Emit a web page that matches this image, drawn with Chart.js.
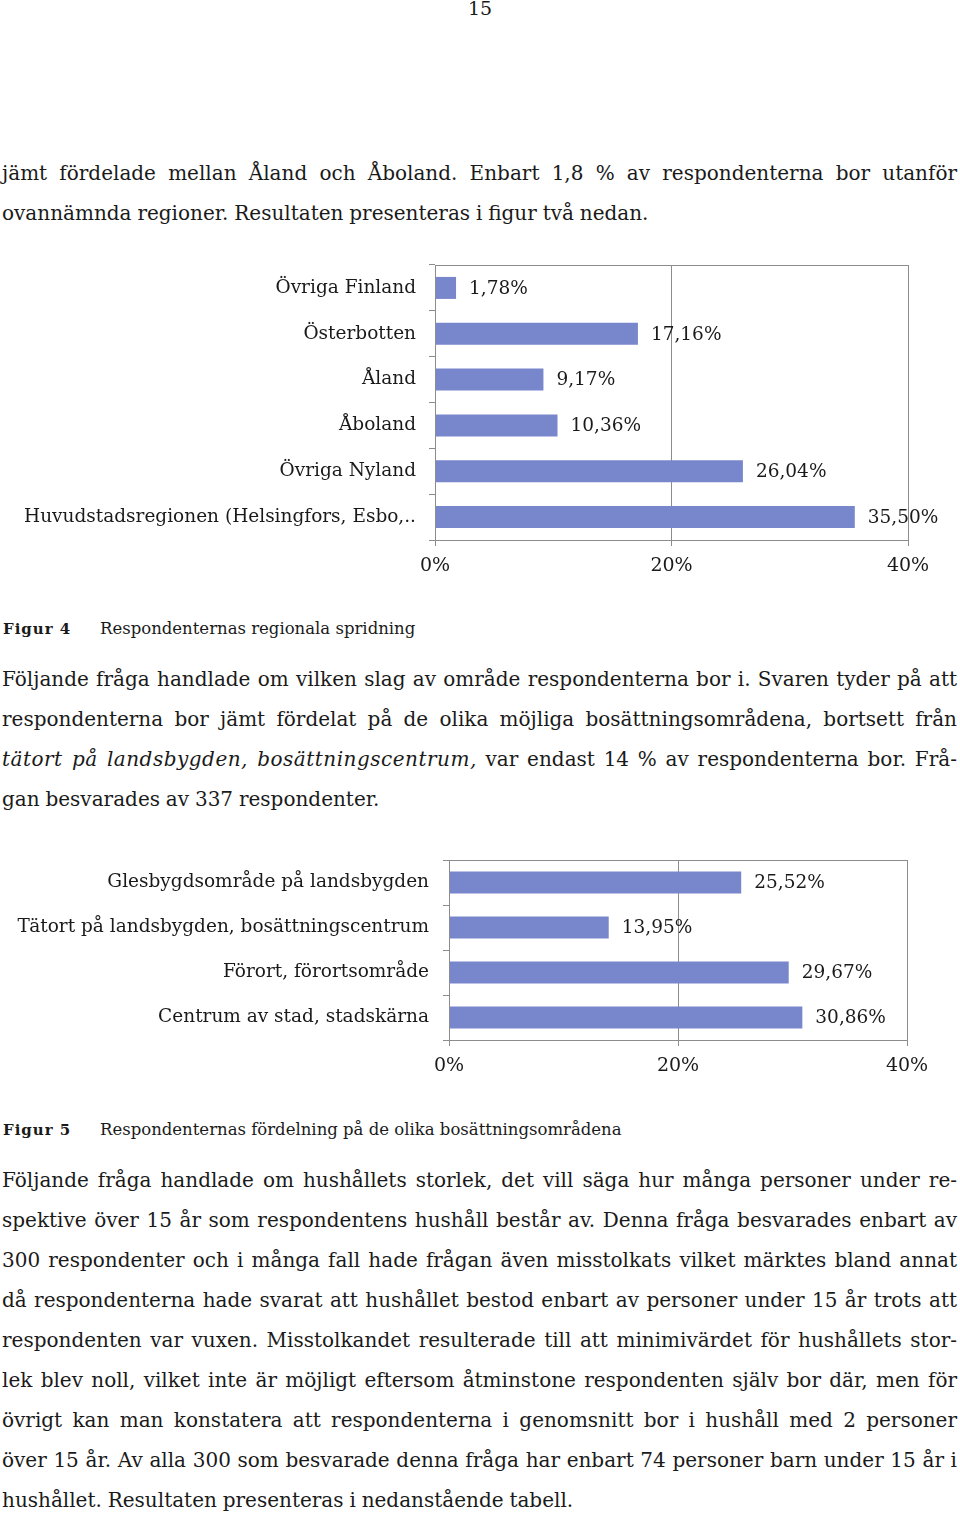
<!DOCTYPE html>
<html>
<head>
<meta charset="utf-8">
<script src="https://cdn.jsdelivr.net/npm/chart.js@4"></script>
<style>
body { margin: 0; background: #fff; font-family: 'DejaVu Serif', serif; color: #1a1a1a; }
#page { position: relative; width: 960px; height: 1516px; overflow: hidden; }
.line { position: absolute; left: 2px; width: 955px; font-size: 20px; word-spacing: -0.5px; line-height: 40px; text-align: justify; text-align-last: justify; }
.last { text-align-last: left; }
.pagenr { position: absolute; left: 0; width: 960px; top: -3px; text-align: center; font-size: 19px; }
.cap { position: absolute; left: 3px; font-size: 16.5px; line-height: 20px; }
.cap b { display: inline-block; width: 97px; font-size: 15px; letter-spacing: 1px; }
.sp { font-style: italic; letter-spacing: 0.5px; }
canvas { position: absolute; left: 0; }
</style>
</head>
<body>
<div id="page">
  <div class="pagenr">15</div>

  <div class="line" style="top:153px">jämt fördelade mellan Åland och Åboland. Enbart 1,8 % av respondenterna bor utanför</div>
  <div class="line last" style="top:193px">ovannämnda regioner. Resultaten presenteras i figur två nedan.</div>

  <canvas id="regionChart" width="960" height="330" style="top:255px"></canvas>

  <div class="cap" style="top:619px"><b>Figur 4</b>Respondenternas regionala spridning</div>

  <div class="line" style="top:659px">Följande fråga handlade om vilken slag av område respondenterna bor i. Svaren tyder på att</div>
  <div class="line" style="top:699px">respondenterna bor jämt fördelat på de olika möjliga bosättningsområdena, bortsett från</div>
  <div class="line" style="top:739px"><span class="sp">tätort på landsbygden, bosättningscentrum,</span> var endast 14 % av respondenterna bor. Frå-</div>
  <div class="line last" style="top:779px">gan besvarades av 337 respondenter.</div>

  <canvas id="areaChart" width="960" height="250" style="top:850px"></canvas>

  <div class="cap" style="top:1120px"><b>Figur 5</b>Respondenternas fördelning på de olika bosättningsområdena</div>

  <div class="line" style="top:1160px">Följande fråga handlade om hushållets storlek, det vill säga hur många personer under re-</div>
  <div class="line" style="top:1200px">spektive över 15 år som respondentens hushåll består av. Denna fråga besvarades enbart av</div>
  <div class="line" style="top:1240px">300 respondenter och i många fall hade frågan även misstolkats vilket märktes bland annat</div>
  <div class="line" style="top:1280px">då respondenterna hade svarat att hushållet bestod enbart av personer under 15 år trots att</div>
  <div class="line" style="top:1320px">respondenten var vuxen. Misstolkandet resulterade till att minimivärdet för hushållets stor-</div>
  <div class="line" style="top:1360px">lek blev noll, vilket inte är möjligt eftersom åtminstone respondenten själv bor där, men för</div>
  <div class="line" style="top:1400px">övrigt kan man konstatera att respondenterna i genomsnitt bor i hushåll med 2 personer</div>
  <div class="line" style="top:1440px">över 15 år. Av alla 300 som besvarade denna fråga har enbart 74 personer barn under 15 år i</div>
  <div class="line last" style="top:1480px">hushållet. Resultaten presenteras i nedanstående tabell.</div>
</div>

<script>
// Figur 4 - regional spridning (percent)
const regions = ['Övriga Finland', 'Österbotten', 'Åland', 'Åboland', 'Övriga Nyland', 'Huvudstadsregionen (Helsingfors, Esbo,..'];
const regionShares = [1.78, 17.16, 9.17, 10.36, 26.04, 35.50];

// Figur 5 - bosättningsområden (percent)
const areas = ['Glesbygdsområde på landsbygden', 'Tätort på landsbygden, bosättningscentrum', 'Förort, förortsområde', 'Centrum av stad, stadskärna'];
const areaShares = [25.52, 13.95, 29.67, 30.86];

const axisTicks = [0, 20, 40];

const barColor = '#7886cc';
const lineColor = '#8c8c8c';
const textColor = '#1a1a1a';
const chartFont = "'DejaVu Serif', serif";

Chart.defaults.font.family = chartFont;
Chart.defaults.color = textColor;

// frame round the plot area (top + right edge)
const plotFrame = {
    id: 'plotFrame',
    afterDraw(chart) {
        const a = chart.chartArea;
        const ctx = chart.ctx;
        ctx.save();
        ctx.strokeStyle = lineColor;
        ctx.lineWidth = 1;
        ctx.strokeRect(Math.round(a.left) + 0.5, Math.round(a.top) + 0.5, Math.round(a.right - a.left), Math.round(a.bottom - a.top));
        ctx.restore();
    }
};

// value labels to the right of each bar, "35,50%"
const valueLabels = {
    id: 'valueLabels',
    afterDatasetsDraw(chart) {
        const ctx = chart.ctx;
        const meta = chart.getDatasetMeta(0);
        const values = chart.data.datasets[0].data;
        ctx.save();
        ctx.font = '18.5px ' + chartFont;
        ctx.fillStyle = textColor;
        ctx.textBaseline = 'middle';
        meta.data.forEach((bar, i) => {
            ctx.fillText(values[i].toFixed(2).replace('.', ',') + '%', bar.x + 13, bar.y + 1);
        });
        ctx.restore();
    }
};

function makeChart(id, labels, values, opts) {
    const ctx = document.getElementById(id).getContext('2d');
    return new Chart(ctx, {
        type: 'bar',
        data: {
            labels: labels,
            datasets: [{
                data: values,
                backgroundColor: barColor,
                borderWidth: 0,
                categoryPercentage: 1,
                barPercentage: opts.barPct
            }]
        },
        options: {
            indexAxis: 'y',
            responsive: false,
            animation: false,
            layout: { padding: { top: 10, right: opts.right, left: 0, bottom: 0 } },
            plugins: { legend: { display: false }, tooltip: { enabled: false } },
            scales: {
                x: {
                    min: axisTicks[0],
                    max: axisTicks[axisTicks.length - 1],
                    afterBuildTicks: scale => { scale.ticks = axisTicks.map(v => ({ value: v })); },
                    afterFit: scale => { scale.height = opts.xHeight; scale.paddingLeft = 0; scale.paddingRight = 0; },
                    ticks: {
                        font: { size: 19 },
                        padding: 9,
                        maxRotation: 0,
                        callback: v => v + '%'
                    },
                    grid: { color: lineColor, tickLength: 6 },
                    border: { color: lineColor }
                },
                y: {
                    afterFit: scale => { scale.width = opts.left; scale.paddingTop = 0; scale.paddingBottom = 0; },
                    ticks: { font: { size: 18.5 }, padding: opts.labelPad },
                    grid: { drawOnChartArea: false, color: lineColor, tickLength: 6, offset: true },
                    border: { color: lineColor }
                }
            }
        },
        plugins: [plotFrame, valueLabels]
    });
}

makeChart('regionChart', regions, regionShares, { left: 435, right: 52, xHeight: 45, barPct: 0.48, labelPad: 13 });
makeChart('areaChart', areas, areaShares, { left: 449, right: 53, xHeight: 60, barPct: 0.49, labelPad: 14 });
</script>
</body>
</html>
